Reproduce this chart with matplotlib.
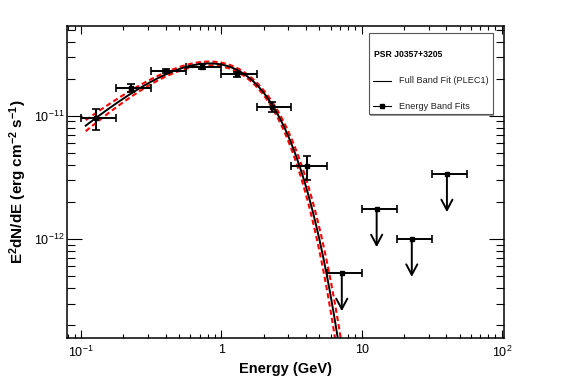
import numpy as np
import matplotlib
matplotlib.use('Agg')
import matplotlib.pyplot as plt
from matplotlib.ticker import FixedLocator, FixedFormatter, LogLocator, NullFormatter
from matplotlib.patches import Rectangle
from matplotlib.lines import Line2D

plt.rcParams['font.family'] = ['Liberation Sans', 'DejaVu Sans']
plt.rcParams['mathtext.fontset'] = 'custom'
plt.rcParams['mathtext.rm'] = 'Liberation Sans'
plt.rcParams['mathtext.bf'] = 'Liberation Sans:bold'

# energy band fits (GeV, erg cm^-2 s^-1)
e_center = [0.127, 0.226, 0.403, 0.723, 1.285, 2.29, 4.06]
e_low = [0.1, 0.178, 0.316, 0.562, 1.0, 1.78, 3.16]
e_high = [0.178, 0.316, 0.562, 1.0, 1.78, 3.16, 5.62]
flux = [9.53e-12, 1.69e-11, 2.30e-11, 2.49e-11, 2.17e-11, 1.18e-11, 3.93e-12]
flux_hi = [1.13e-11, 1.82e-11, 2.38e-11, 2.63e-11, 2.27e-11, 1.30e-11, 4.74e-12]
flux_lo = [7.66e-12, 1.55e-11, 2.22e-11, 2.39e-11, 2.07e-11, 1.08e-11, 3.00e-12]

# upper limits
ul_center = [7.22, 12.8, 22.8, 40.6]
ul_low = [5.62, 10.0, 17.8, 31.6]
ul_high = [10.0, 17.8, 31.6, 56.2]
ul_flux = [5.27e-13, 1.74e-12, 1.0e-12, 3.35e-12]

# full band fit PLEC1: K * E^(2-index) * exp(-E/cutoff), E in GeV
fit_K = 8.82e-11
fit_index = 1.0
fit_cutoff = 0.82
fit_dindex = 0.078
fit_dcutoff = 0.057
fit_pivot = 0.75
fit_emin = 0.1075

xticks = [0.1, 1, 10, 100]
xticklabels = [r'$10^{-1}$', '1', '10', r'$10^{2}$']
yticks = [1e-12, 1e-11]
yticklabels = [r'$10^{-12}$', r'$10^{-11}$']

fig = plt.figure(figsize=(5.67, 3.84), dpi=100)
ax = fig.add_axes([0.119, 0.121, 0.770, 0.811])
ax.set_xscale('log')
ax.set_yscale('log')
ax.set_xlim(0.0797, 103.8)
ax.set_ylim(1.59e-13, 5.34e-11)

E = np.logspace(np.log10(fit_emin), 2, 600)
model = fit_K * E**(2 - fit_index) * np.exp(-E / fit_cutoff)
d = -fit_dindex * np.log(E / fit_pivot) + (E - fit_pivot) * fit_dcutoff / fit_cutoff**2
d = np.sqrt(d**2 + 0.035**2)
ax.plot(E, model * np.exp(d), color='red', lw=1.5, dashes=(2.5, 1.5), zorder=2)
ax.plot(E, model * np.exp(-d), color='red', lw=1.5, dashes=(2.5, 1.5), zorder=2)
ax.plot(E, model, color='black', lw=1.4, zorder=3)

xc = np.array(e_center)
xerr = [xc - np.array(e_low), np.array(e_high) - xc]
yc = np.array(flux)
yerr = [yc - np.array(flux_lo), np.array(flux_hi) - yc]
ax.errorbar(xc, yc, xerr=xerr, yerr=yerr, fmt='s', color='black', ms=3,
            elinewidth=1.4, capsize=3, capthick=1.2, zorder=4)

uc = np.array(ul_center)
uerr = [uc - np.array(ul_low), np.array(ul_high) - uc]
ax.errorbar(uc, ul_flux, xerr=uerr, fmt='s', color='black', ms=3,
            elinewidth=1.4, capsize=3, capthick=1.2, zorder=4)
for x, y in zip(ul_center, ul_flux):
    ax.annotate('', xy=(x, y * 0.494), xytext=(x, y),
                arrowprops=dict(arrowstyle='->,head_length=0.75,head_width=0.4',
                                color='black', lw=1.4, shrinkA=0, shrinkB=0),
                zorder=4)

ax.xaxis.set_major_locator(FixedLocator(xticks))
ax.xaxis.set_major_formatter(FixedFormatter(xticklabels))
ax.xaxis.set_minor_locator(LogLocator(base=10, subs=np.arange(2, 10)))
ax.xaxis.set_minor_formatter(NullFormatter())
ax.yaxis.set_major_locator(FixedLocator(yticks))
ax.yaxis.set_major_formatter(FixedFormatter(yticklabels))
ax.yaxis.set_minor_locator(LogLocator(base=10, subs=np.arange(2, 10)))
ax.yaxis.set_minor_formatter(NullFormatter())

ax.tick_params(which='both', direction='in', top=True, right=True, width=0.8,
               labelsize=9, color='black')
ax.tick_params(axis='x', which='major', length=6, pad=5)
ax.tick_params(axis='x', which='minor', length=3)
ax.tick_params(axis='y', which='major', length=11, pad=2)
ax.tick_params(axis='y', which='minor', length=5.5)
for s in ax.spines.values():
    s.set_linewidth(1.1)

ax.set_xlabel('Energy (GeV)', fontsize=10.5, fontweight='bold', labelpad=2)
ax.set_ylabel(r'E$\mathbf{^{2}}$dN/dE (erg cm$\mathbf{^{-2}}$ s$\mathbf{^{-1}}$)',
              fontsize=11, fontweight='bold', labelpad=4)

# legend box
ax.add_patch(Rectangle((0.694, 0.712), 0.284, 0.26, transform=ax.transAxes,
                       facecolor='#999999', edgecolor='none', zorder=5, clip_on=False))
ax.add_patch(Rectangle((0.690, 0.7175), 0.284, 0.26, transform=ax.transAxes,
                       facecolor='white', edgecolor='#555555', lw=0.8, zorder=6,
                       clip_on=False))
ax.text(0.703, 0.91, 'PSR J0357+3205', transform=ax.transAxes, fontsize=6.2,
        fontweight='bold', va='center', zorder=7)
ax.add_line(Line2D([0.700, 0.741], [0.825, 0.825], transform=ax.transAxes,
                   color='black', lw=0.8, zorder=7))
ax.text(0.759, 0.825, 'Full Band Fit (PLEC1)', transform=ax.transAxes, fontsize=6.6,
        va='center', zorder=7, color='#222222')
ax.add_line(Line2D([0.700, 0.741], [0.742, 0.742], transform=ax.transAxes,
                   color='black', lw=0.8, zorder=7))
ax.plot([0.7205], [0.742], 's', color='black', ms=3, transform=ax.transAxes, zorder=8)
ax.text(0.759, 0.742, 'Energy Band Fits', transform=ax.transAxes, fontsize=6.6,
        va='center', zorder=7, color='#222222')

fig.savefig('out.png', dpi=100)
